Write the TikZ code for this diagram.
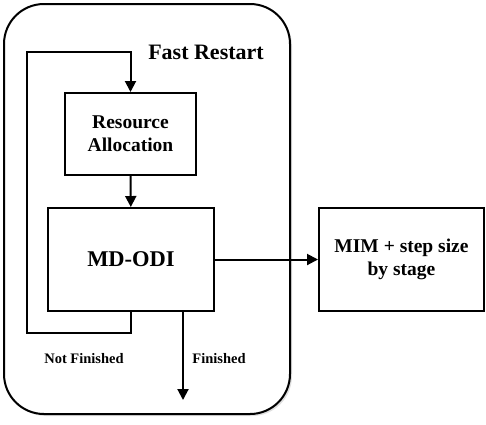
\documentclass[tikz,border=0pt]{standalone}
\usepackage{fontspec}
\setmainfont{Liberation Serif}
\usetikzlibrary{arrows.meta,positioning,shadows}
\tikzset{
  block/.style={draw, line width=2pt, align=center, fill=white,
    font=\bfseries\fontsize{19.5}{23}\selectfont},
  flow/.style={-{Triangle[length=11pt,width=11pt]}, line width=2pt},
  tag/.style={font=\bfseries\fontsize{14.5}{16}\selectfont},
}

\begin{document}
\begin{tikzpicture}[x=1pt,y=-1pt]
\useasboundingbox (0,0) rectangle (486,424);
% ---------- outer frame ----------
\node[draw, line width=2pt, rounded corners=40pt, fill=white, anchor=north west,
      minimum width=286pt, minimum height=410pt,
      drop shadow={opacity=0.25, shadow xshift=2pt, shadow yshift=-2pt}]
      (frame) at (3,3) {};
\node[font=\bfseries\fontsize{22}{24}\selectfont] (title) at (206,52) {Fast Restart};

% ---------- blocks ----------
\node[block, minimum width=131pt, minimum height=82pt] (alloc) at (130.5,134) {Resource\\Allocation};
\node[block, minimum width=166pt, minimum height=103pt,
      font=\bfseries\fontsize{22.5}{25}\selectfont] (odi) at (131,259.5) {MD-ODI};
\node[block, minimum width=165pt, minimum height=103pt] (mim) at (401.5,259.5) {MIM + step size\\by stage};

% ---------- connectors ----------
\draw[flow] (alloc) -- (odi);
\draw[flow] (odi) -- (mim);
\coordinate (loopL) at (27,333);
\coordinate (loopT) at (27,52);
\draw[flow] (odi.south) |- (loopL) -- (loopT) -| (alloc.north);
\coordinate (done) at (183,400);
\draw[flow] (odi.south -| done) -- (done);

% ---------- labels ----------
\node[tag] (notfin) at (84,359) {Not Finished};
\node[tag] (fin) at (219,359) {Finished};
\end{tikzpicture}
\end{document}
